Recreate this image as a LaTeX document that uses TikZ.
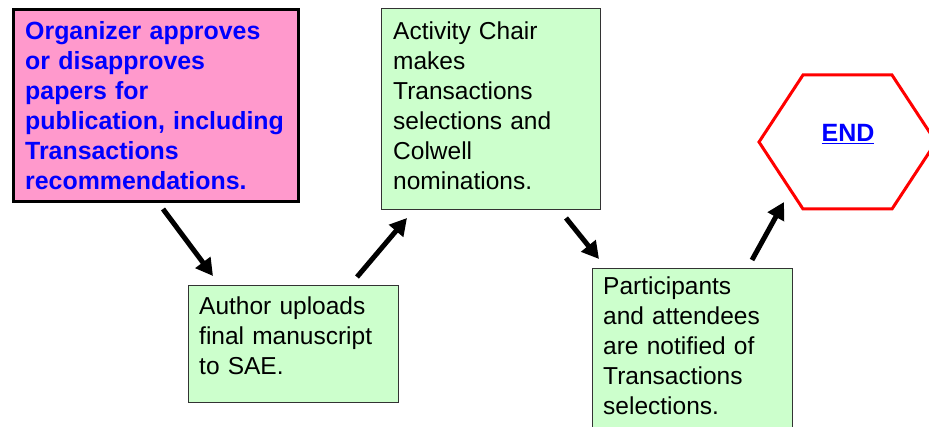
\documentclass[tikz,border=0pt]{standalone}
\usepackage{fontspec}
\setmainfont{Liberation Sans}
\usetikzlibrary{arrows.meta}
\definecolor{boxgreen}{HTML}{CCFFCC}
\definecolor{boxpink}{HTML}{FF99CC}
\definecolor{hexred}{HTML}{FF0000}
\definecolor{txtblue}{HTML}{0000FF}
\tikzset{
  greenbox/.style={draw=black!80, line width=1pt, fill=boxgreen, rectangle, anchor=north west, inner sep=0pt},
  pinkbox/.style={draw=black, line width=3pt, fill=boxpink, rectangle, anchor=north west, inner sep=0pt},
  boxtext/.style={anchor=base west, inner sep=0pt, align=left, text width=#1,
    font=\fontsize{24.5}{30}\selectfont},
  flowarrow/.style={line width=5pt, -{Triangle[length=17pt,width=18pt]}},
}
\begin{document}
\begin{tikzpicture}[x=1pt,y=-1pt]
\useasboundingbox (0,0) rectangle (929,427);
\clip (0,0) rectangle (929,427);
% boxes
\node[pinkbox, minimum width=285pt, minimum height=192pt] (b1) at (11.5,8.5) {};
\node[boxtext=280pt, text=txtblue, font=\fontsize{24.9}{30}\selectfont\bfseries] (t1) at (25,40)
  {Organizer approves\\or disapproves\\papers for\\publication, including\\Transactions\\recommendations.};
\node[greenbox, minimum width=219pt, minimum height=201pt] (b2) at (381,8) {};
\node[boxtext=210pt] (t2) at (393,40)
  {Activity Chair\\makes\\Transactions\\selections and\\Colwell\\nominations.};
\node[greenbox, minimum width=210pt, minimum height=117pt] (b3) at (188,285) {};
\node[boxtext=200pt] (t3) at (199,315)
  {Author uploads\\final manuscript\\to SAE.};
\node[greenbox, minimum width=200pt, minimum height=180pt] (b4) at (592,268) {};
\node[boxtext=190pt] (t4) at (603,295)
  {Participants\\and attendees\\are notified of\\Transactions\\selections.};
% hexagon
\coordinate (h1) at (759,142);
\coordinate (h2) at (803,75);
\coordinate (h3) at (892,75);
\coordinate (h4) at (936,142);
\coordinate (h5) at (892,209);
\coordinate (h6) at (803,209);
\draw[hexred, line width=3pt, line join=miter] (h1) -- (h2) -- (h3) -- (h4) -- (h5) -- (h6) -- cycle;
\node[anchor=base, inner sep=0pt, text=txtblue, font=\fontsize{25}{30}\selectfont\bfseries] (endt) at (848,142) {\underline{END}};
% arrow end points
\coordinate (a1s) at (163,209);
\coordinate (a1e) at (213,276);
\coordinate (a2s) at (357,277);
\coordinate (a2e) at (407,218);
\coordinate (a3s) at (566,218);
\coordinate (a3e) at (599,259);
\coordinate (a4s) at (752,260);
\coordinate (a4e) at (784,202);
\draw[flowarrow] (a1s) -- (a1e);
\draw[flowarrow] (a2s) -- (a2e);
\draw[flowarrow] (a3s) -- (a3e);
\draw[flowarrow] (a4s) -- (a4e);
\end{tikzpicture}
\end{document}
